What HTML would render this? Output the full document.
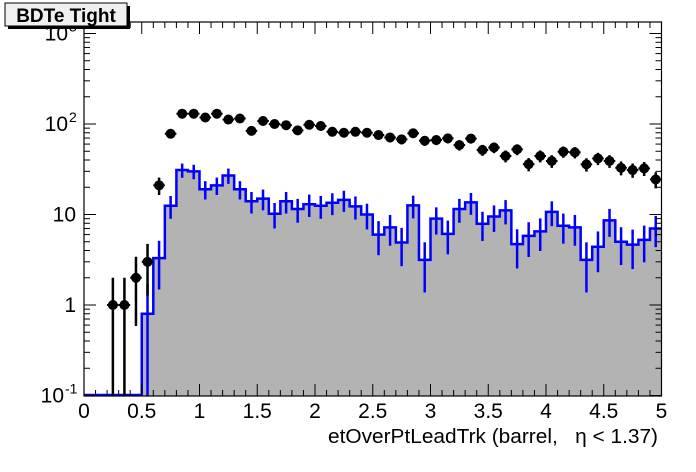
<!DOCTYPE html>
<html><head><meta charset="utf-8"><style>
html,body{margin:0;padding:0;background:#fff;}
svg{display:block;font-family:"Liberation Sans",sans-serif;}
</style></head><body>
<svg id="s" width="696" height="472" xmlns="http://www.w3.org/2000/svg"></svg>
<script>
var L=84,R=661.5,T=22,B=396;
function X(v){return L+v*(R-L)/5;}
var Y1=305,DEC=90.5;
function Y(v){if(v<=0.1)return B;var y=Y1-Math.log10(v)*DEC;return Math.max(T,Math.min(B,y));}
var mc=[0,0,0,0,0,0.8,3.3,12.5,31,30,19,21,27,19,14,15,10.2,14,11.5,13,12.5,13.5,14.5,12.3,10,6.0,7.2,4.9,12.6,3.15,9.0,6.1,11.5,13.6,7.9,9.5,11.1,4.7,5.8,6.5,10.7,7.5,7.2,3.15,4.4,8.6,5.0,4.65,5.25,7.0];
var da=[0,0,1,1,2,3,21,78,130,130,118,130,112,115,84,108,100,97,85,98,95,82,80,82,80,75.5,71,67.7,79,65.3,66.5,69.4,58.5,69,51.6,55,44.3,52.4,36,44.3,39,49.4,48.6,35.8,41.6,39,32.8,31,32.3,24.4];
var h='';
var p='M'+X(0)+','+B;
for(var i=0;i<50;i++){var y=Y(mc[i]);p+=' L'+X(i*0.1)+','+y+' L'+X((i+1)*0.1)+','+y;}
p+=' L'+R+','+B+' Z';
h+='<path d="'+p+'" fill="#b3b3b3" stroke="none"/>';
var q='M'+X(0)+','+(B-1);
for(var i=0;i<50;i++){var y=mc[i]>0?Y(mc[i]):B-1;q+=' L'+X(i*0.1)+','+y+' L'+X((i+1)*0.1)+','+y;}
h+='<path d="'+q+'" fill="none" stroke="#0000ff" stroke-width="2.5"/>';
for(var i=0;i<50;i++){if(mc[i]<=0)continue;var s=Math.sqrt(mc[i]);var xc=X(i*0.1+0.05);
h+='<line x1="'+xc+'" x2="'+xc+'" y1="'+Y(mc[i]+s)+'" y2="'+Y(mc[i]-s)+'" stroke="#0000ff" stroke-width="2.5"/>';}
for(var i=0;i<50;i++){if(da[i]<=0)continue;var s=Math.sqrt(da[i]);var xc=X(i*0.1+0.05),yc=Y(da[i]);
h+='<line x1="'+xc+'" x2="'+xc+'" y1="'+Y(da[i]+s)+'" y2="'+Y(da[i]-s)+'" stroke="#000" stroke-width="2.5"/>';
h+='<line x1="'+X(i*0.1)+'" x2="'+X(i*0.1+0.1)+'" y1="'+yc+'" y2="'+yc+'" stroke="#000" stroke-width="2"/>';
h+='<circle cx="'+xc+'" cy="'+yc+'" r="5" fill="#000"/>';}
h+='<rect x="'+L+'" y="'+T+'" width="'+(R-L)+'" height="'+(B-T)+'" fill="none" stroke="#000" stroke-width="1.2"/>';
for(var k=0;k<=50;k++){var x=X(k*0.1);var len=(k%5==0)?12:6;
h+='<line x1="'+x+'" x2="'+x+'" y1="'+B+'" y2="'+(B-len)+'" stroke="#000"/>';
h+='<line x1="'+x+'" x2="'+x+'" y1="'+T+'" y2="'+(T+len)+'" stroke="#000"/>';
if(k%5==0){h+='<text x="'+x+'" y="418" font-size="21" text-anchor="middle">'+(k/10)+'</text>';}}
for(var d=-1;d<=3;d++){for(var m=1;m<=9;m++){var v=m*Math.pow(10,d);var y=Y1-Math.log10(v)*DEC;if(y<T-0.5||y>B+0.5)continue;var len=m==1?12:6;
h+='<line x1="'+L+'" x2="'+(L+len)+'" y1="'+y+'" y2="'+y+'" stroke="#000"/>';
h+='<line x1="'+R+'" x2="'+(R-len)+'" y1="'+y+'" y2="'+y+'" stroke="#000"/>';}}
var labs=[[3,'10','3'],[2,'10','2'],[1,'10',''],[0,'1',''],[-1,'10','-1']];
labs.forEach(function(a){var y=Y1-a[0]*DEC+7;
if(a[2]){h+='<text x="'+(a[2]=='-1'?64:68)+'" y="'+y+'" font-size="21" text-anchor="end">'+a[1]+'</text><text x="'+(a[2]=='-1'?65:69)+'" y="'+(y-9)+'" font-size="14">'+a[2]+'</text>';}
else h+='<text x="76" y="'+y+'" font-size="21" text-anchor="end">'+a[1]+'</text>';});
h+='<text x="328" y="443" font-size="20" textLength="330" lengthAdjust="spacingAndGlyphs">etOverPtLeadTrk (barrel,&#160;&#160;&#160;η &lt; 1.37)</text>';
h+='<rect x="8" y="6" width="122" height="23" fill="#000"/><rect x="5" y="3" width="122" height="23" fill="#f0f0f0" stroke="#000" stroke-width="1"/>';
h+='<text x="66" y="22" font-size="19" font-weight="bold" text-anchor="middle">BDTe Tight</text>';
document.getElementById('s').innerHTML=h;
</script>
</body></html>
